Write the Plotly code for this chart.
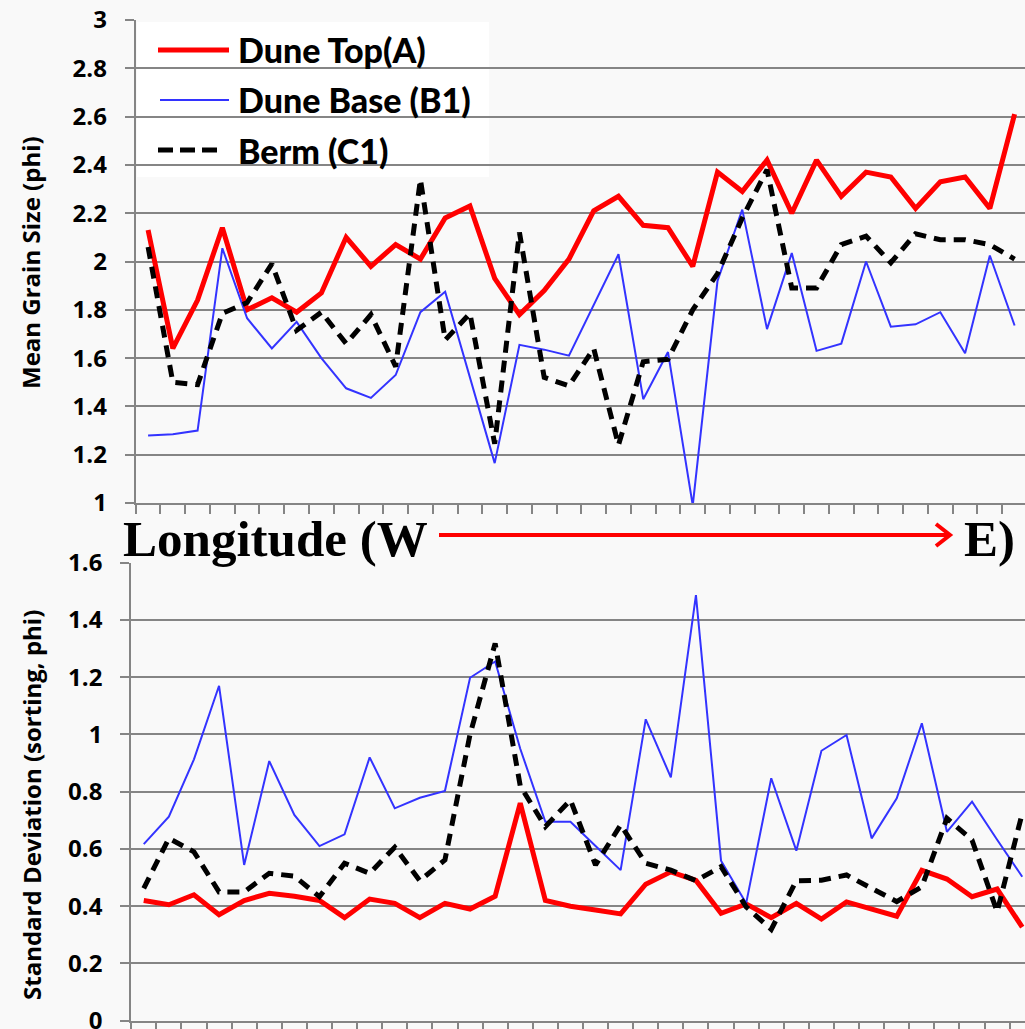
import plotly.graph_objects as go

W, H = 1025, 1029

# ---------------- data ----------------
sample_idx = list(range(36))  # stations, west -> east

mean_top = [2.13, 1.64, 1.84, 2.14, 1.80, 1.85, 1.79, 1.87, 2.10, 1.98, 2.07, 2.01,
            2.18, 2.23, 1.93, 1.78, 1.88, 2.01, 2.21, 2.27, 2.15, 2.14, 1.98, 2.37,
            2.29, 2.42, 2.20, 2.42, 2.27, 2.37, 2.35, 2.22, 2.33, 2.35, 2.22, 2.61]
mean_base = [1.28, 1.285, 1.30, 2.055, 1.765, 1.64, 1.75, 1.60, 1.475, 1.435, 1.53, 1.79,
             1.875, 1.52, 1.165, 1.655, 1.635, 1.61, 1.82, 2.03, 1.43, 1.625, 0.99, 1.92,
             2.215, 1.72, 2.035, 1.63, 1.66, 2.00, 1.73, 1.74, 1.79, 1.62, 2.025, 1.735]
mean_berm = [2.06, 1.50, 1.49, 1.785, 1.83, 1.99, 1.715, 1.79, 1.66, 1.78, 1.565, 2.34,
             1.675, 1.785, 1.245, 2.12, 1.52, 1.485, 1.64, 1.24, 1.585, 1.595, 1.80, 1.95,
             2.18, 2.38, 1.89, 1.89, 2.07, 2.105, 1.995, 2.115, 2.09, 2.09, 2.07, 2.01]

sd_top = [0.42, 0.405, 0.44, 0.37, 0.42, 0.445, 0.435, 0.42, 0.36, 0.425, 0.41, 0.36,
          0.41, 0.39, 0.435, 0.76, 0.42, 0.40, 0.387, 0.373, 0.477, 0.52, 0.49, 0.375,
          0.408, 0.36, 0.41, 0.355, 0.415, 0.39, 0.365, 0.525, 0.495, 0.433, 0.46, 0.327]
sd_base = [0.617, 0.713, 0.913, 1.17, 0.544, 0.907, 0.719, 0.61, 0.651, 0.92, 0.742, 0.779,
           0.803, 1.198, 1.255, 0.95, 0.695, 0.695, 0.61, 0.526, 1.053, 0.85, 1.487, 0.559,
           0.41, 0.847, 0.594, 0.943, 0.998, 0.637, 0.777, 1.039, 0.66, 0.765, 0.632, 0.503]
sd_berm = [0.4625, 0.637, 0.59, 0.45, 0.45, 0.515, 0.505, 0.433, 0.55, 0.515, 0.606, 0.489,
           0.562, 1.00, 1.318, 0.82, 0.678, 0.771, 0.544, 0.684, 0.55, 0.526, 0.489, 0.538,
           0.398, 0.319, 0.489, 0.491, 0.509, 0.4625, 0.416, 0.468, 0.707, 0.631, 0.381, 0.7245]

series_names = ["Dune Top(A)", "Dune Base (B1)", "Berm (C1)"]
top_title = "Mean Grain Size (phi)"
bottom_title = "Standard Deviation (sorting, phi)"

# ---------------- styles ----------------
RED, BLUE, BLACK = "#ff0000", "#3333ff", "#000000"
GRAY = "#858585"
styles = [dict(color=RED, width=5), dict(color=BLUE, width=2),
          dict(color=BLACK, width=5, dash="12px,8px")]


def fx(px):
    return px / W


def fy(py):
    return 1 - py / H


fig = go.Figure()
for vals, st, nm in zip([mean_top, mean_base, mean_berm], styles, series_names):
    fig.add_trace(go.Scatter(x=sample_idx, y=vals, mode="lines", line=st, name=nm,
                             xaxis="x", yaxis="y", showlegend=False))
for vals, st, nm in zip([sd_top, sd_base, sd_berm], styles, series_names):
    fig.add_trace(go.Scatter(x=sample_idx, y=vals, mode="lines", line=st, name=nm,
                             xaxis="x2", yaxis="y2", showlegend=False))

tickfont = dict(family="Open Sans", size=24, color="black", weight="bold")
xcommon = dict(tickvals=[i - 0.5 for i in range(37)], ticks="outside", ticklen=9,
               tickwidth=1.5, tickcolor=GRAY, showticklabels=False, showgrid=False,
               showline=True, linecolor=GRAY, linewidth=2, zeroline=False,
               automargin=False)
ycommon = dict(ticks="outside", ticklen=9, tickwidth=1.5, tickcolor=GRAY, showgrid=True,
               gridcolor=GRAY, gridwidth=1.5, showline=True, linecolor=GRAY, linewidth=2,
               zeroline=False, tickfont=tickfont, ticklabelstandoff=13, automargin=False,
               ticklabeloverflow="allow")

fig.update_layout(
    width=W, height=H,
    margin=dict(l=0, r=0, t=0, b=0, pad=0, autoexpand=False),
    paper_bgcolor="#f9f9f9", plot_bgcolor="#f9f9f9",
    xaxis=dict(domain=[fx(135.7), 1], range=[-0.5, 35.42], anchor="y", **xcommon),
    yaxis=dict(domain=[fy(503), fy(20)], range=[1, 3], tick0=1, dtick=0.2, anchor="x",
               **ycommon),
    xaxis2=dict(domain=[fx(131.2), 1], range=[-0.5, 35.11], anchor="y2", **xcommon),
    yaxis2=dict(domain=[fy(1020.7), fy(562.7)], range=[0, 1.6], tick0=0, dtick=0.2,
                anchor="x2", **ycommon),
)

shapes = []
# legend box
shapes.append(dict(type="rect", xref="paper", yref="paper", x0=fx(137), x1=fx(489),
                   y0=fy(177), y1=fy(22), fillcolor="white", line=dict(width=0),
                   layer="between"))
legend_rows = [50, 100, 150]
legend_x = [(158, 229), (160, 229), (158, 222)]
for (x0, x1), yy, st in zip(legend_x, legend_rows, styles):
    ln = dict(color=st["color"], width=st["width"])
    if "dash" in st:
        ln["dash"] = "15px,7px"
    shapes.append(dict(type="line", xref="paper", yref="paper", x0=fx(x0), x1=fx(x1),
                       y0=fy(yy), y1=fy(yy), line=ln))
# red arrow W -> E
shapes.append(dict(type="line", xref="paper", yref="paper", x0=fx(439), x1=fx(949),
                   y0=fy(535), y1=fy(535), line=dict(color=RED, width=4)))
shapes.append(dict(type="path", xref="paper", yref="paper",
                   path=f"M {fx(936)},{fy(524)} L {fx(950)},{fy(535)} L {fx(936)},{fy(546)}",
                   line=dict(color=RED, width=4)))

annotations = []
for yy, nm in zip(legend_rows, series_names):
    annotations.append(dict(x=fx(236), y=fy(yy), xref="paper", yref="paper", text=nm,
                            showarrow=False, xanchor="left", yanchor="middle",
                            font=dict(family="Lato", size=34, color="black", weight=900)))
serif = dict(family="Liberation Serif", size=51, color="black", weight="bold")
annotations.append(dict(x=fx(121), y=fy(539), xref="paper", yref="paper",
                        text="Longitude (W", showarrow=False, xanchor="left",
                        yanchor="middle", font=serif))
annotations.append(dict(x=fx(962), y=fy(539), xref="paper", yref="paper", text="E)",
                        showarrow=False, xanchor="left", yanchor="middle", font=serif))
ytfont = dict(family="Open Sans", size=24, color="black", weight="bold")
annotations.append(dict(x=fx(31), y=fy(263), xref="paper", yref="paper", text=top_title,
                        showarrow=False, textangle=-90, xanchor="center",
                        yanchor="middle", font=ytfont))
annotations.append(dict(x=fx(31), y=fy(805), xref="paper", yref="paper",
                        text=bottom_title, showarrow=False, textangle=-90,
                        xanchor="center", yanchor="middle", font=ytfont))

fig.update_layout(shapes=shapes, annotations=annotations)
fig.write_html("out.html")
